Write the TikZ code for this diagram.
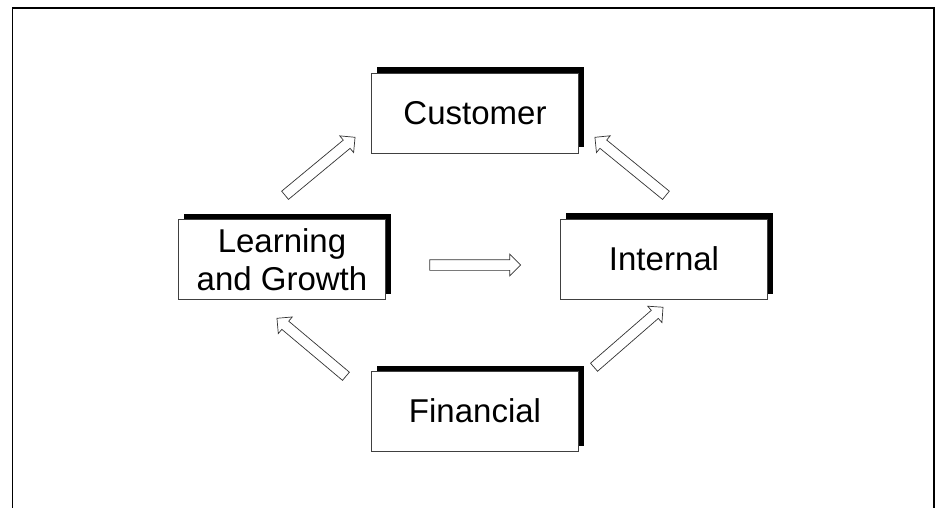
\documentclass[tikz,border=0pt]{standalone}
\usepackage{fontspec}
\setmainfont{Liberation Sans}
\usetikzlibrary{shapes.arrows,calc}
\newcommand\blockarrow[3]{\path let \p1=($(#3)-(#2)$), \n1={atan2(\y1,\x1)}, \n2={veclen(\x1,\y1)} in node[fatarrow, rotate=\n1, minimum height=\n2] (#1) at ($(#2)!0.5!(#3)$) {};}
\begin{document}
\begin{tikzpicture}[x=1pt,y=1pt,
  box/.style={draw=black!75, line width=0.8pt, fill=white, minimum width=207pt, minimum height=80pt, inner sep=0pt, font=\fontsize{33}{38}\selectfont, align=center},
  shadowbox/.style={fill=black, minimum width=207pt, minimum height=80pt, inner sep=0pt},
  fatarrow/.style={single arrow, draw=black!80, line width=0.7pt, fill=white, inner sep=5pt, minimum width=21pt, single arrow head extend=5.5pt, single arrow tip angle=90}
]
\useasboundingbox (0,0) rectangle (938,-508);
\draw[line width=1.5pt] (12.5,-508) -- (12.5,-8) -- (934,-8) -- (934,-508);

% shadows
\node[shadowbox] (cusS) at (480.5,-107.5) {};
\node[shadowbox] (lrnS) at (287.5,-254) {};
\node[shadowbox] (intS) at (669.5,-253.5) {};
\node[shadowbox] (finS) at (480.5,-405.5) {};

% boxes
\node[box] (cus) at (475,-113) {Customer};
\node[box] (lrn) at (282,-259.5) {Learning\\and Growth};
\node[box] (int) at (664,-259) {Internal};
\node[box] (fin) at (475,-411) {Financial};

% arrow end points
\coordinate (a1t) at (283,-197); \coordinate (a1h) at (353,-139);
\coordinate (a2t) at (668,-197); \coordinate (a2h) at (597,-139);
\coordinate (a3t) at (427,-265); \coordinate (a3h) at (518,-265);
\coordinate (a4t) at (348,-378); \coordinate (a4h) at (279,-320);
\coordinate (a5t) at (592,-369); \coordinate (a5h) at (661,-309);

\blockarrow{lrn2cus}{a1t}{a1h}
\blockarrow{int2cus}{a2t}{a2h}
\blockarrow{lrn2int}{a3t}{a3h}
\blockarrow{fin2lrn}{a4t}{a4h}
\blockarrow{fin2int}{a5t}{a5h}
\end{tikzpicture}
\end{document}
